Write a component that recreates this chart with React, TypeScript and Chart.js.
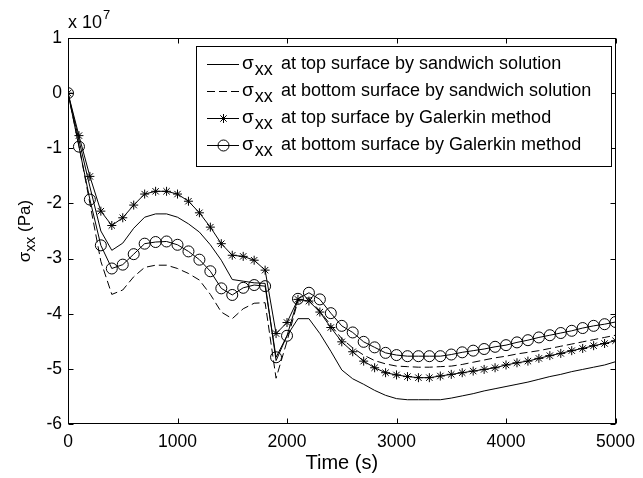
import React, { useEffect, useRef } from "react";
import { Chart, registerables } from "chart.js";
Chart.register(...registerables);

// Time (s)
const TIME = [
  0, 100, 200, 300, 400, 500, 600, 700, 800, 900,
  1000, 1100, 1200, 1300, 1400, 1500, 1600, 1700, 1800, 1900,
  2000, 2100, 2200, 2300, 2400, 2500, 2600, 2700, 2800, 2900,
  3000, 3100, 3200, 3300, 3400, 3500, 3600, 3700, 3800, 3900,
  4000, 4100, 4200, 4300, 4400, 4500, 4600, 4700, 4800, 4900, 5000,
];

// sigma_xx (x 1e7 Pa)
const TOP_SANDWICH = [
  0, -0.85, -1.7, -2.5, -2.85, -2.72, -2.45, -2.25, -2.19, -2.19,
  -2.25, -2.37, -2.52, -2.75, -3.03, -3.38, -3.41, -3.44, -3.45, -4.85,
  -4.4, -4.09, -4.09, -4.36, -4.68, -5.02, -5.18, -5.28, -5.39, -5.48,
  -5.54, -5.56, -5.56, -5.56, -5.56, -5.53, -5.49, -5.45, -5.4, -5.36,
  -5.32, -5.28, -5.24, -5.19, -5.14, -5.1, -5.05, -5.01, -4.97, -4.93, -4.87,
];
const BOTTOM_SANDWICH = [
  0, -0.95, -2.0, -3.05, -3.65, -3.57, -3.33, -3.16, -3.12, -3.12,
  -3.18, -3.27, -3.39, -3.65, -3.97, -4.09, -3.91, -3.81, -3.8, -5.17,
  -4.5, -3.76, -3.73, -3.95, -4.21, -4.45, -4.62, -4.75, -4.85, -4.91,
  -4.95, -4.96, -4.97, -4.97, -4.96, -4.95, -4.92, -4.88, -4.84, -4.8,
  -4.77, -4.73, -4.7, -4.67, -4.63, -4.59, -4.55, -4.51, -4.47, -4.43, -4.39,
];
const TOP_GALERKIN = [
  0, -0.77, -1.51, -2.14, -2.4, -2.26, -2.03, -1.83, -1.78, -1.78,
  -1.83, -1.96, -2.17, -2.43, -2.73, -2.94, -2.96, -3.03, -3.21, -4.36,
  -4.16, -3.74, -3.77, -3.97, -4.25, -4.51, -4.69, -4.86, -4.98, -5.07,
  -5.11, -5.14, -5.16, -5.16, -5.13, -5.1, -5.07, -5.04, -5.01, -4.98,
  -4.93, -4.89, -4.86, -4.81, -4.76, -4.72, -4.67, -4.63, -4.58, -4.54, -4.49,
];
const BOTTOM_GALERKIN = [
  0, -0.97, -1.93, -2.76, -3.18, -3.11, -2.92, -2.73, -2.7, -2.69,
  -2.75, -2.87, -3.02, -3.23, -3.54, -3.66, -3.53, -3.48, -3.5, -4.79,
  -4.4, -3.73, -3.62, -3.74, -3.99, -4.22, -4.34, -4.51, -4.61, -4.71,
  -4.75, -4.77, -4.77, -4.77, -4.77, -4.74, -4.7, -4.67, -4.64, -4.6,
  -4.57, -4.52, -4.48, -4.43, -4.39, -4.35, -4.31, -4.26, -4.22, -4.19, -4.15,
];

const X_TICKS = [0, 1000, 2000, 3000, 4000, 5000];
const Y_TICKS = [1, 0, -1, -2, -3, -4, -5, -6];
const LEGEND_LABELS = [
  "at top surface by sandwich solution",
  "at bottom surface by sandwich solution",
  "at top surface by Galerkin method",
  "at bottom surface by Galerkin method",
];
const X_TITLE = "Time (s)";
const SIGMA = "σ";
const SUB = "xx";
const Y_TITLE_UNIT = " (Pa)";
const EXPONENT_BASE = "x 10";
const EXPONENT_POWER = "7";

const FONT = '"Liberation Sans", Arial, Helvetica, sans-serif';

const toPoints = (ys: number[]) => TIME.map((t, i) => ({ x: t, y: ys[i] }));

function drawMarker(ctx: CanvasRenderingContext2D, style: string, r: number, x: number, y: number) {
  ctx.beginPath();
  if (style === "circle") {
    ctx.arc(x, y, r, 0, Math.PI * 2);
    ctx.stroke();
  } else {
    const d = r * Math.SQRT1_2;
    ctx.moveTo(x - r, y); ctx.lineTo(x + r, y);
    ctx.moveTo(x, y - r); ctx.lineTo(x, y + r);
    ctx.moveTo(x - d, y - d); ctx.lineTo(x + d, y + d);
    ctx.moveTo(x - d, y + d); ctx.lineTo(x + d, y - d);
    ctx.stroke();
  }
}

const decorPlugin = {
  id: "decor",
  afterDraw(chart: any) {
    const { ctx, chartArea: a, scales } = chart;
    const xs = scales.x;
    const ys = scales.y;
    ctx.save();
    ctx.strokeStyle = "#000";
    ctx.fillStyle = "#000";
    ctx.lineWidth = 1;
    const L = Math.round(a.left) + 0.5;
    const R = Math.round(a.right) - 0.5;
    const T = Math.round(a.top) + 0.5;
    const B = Math.round(a.bottom) - 0.5;
    ctx.strokeRect(L, T, R - L, B - T);
    const tl = 5;
    ctx.beginPath();
    X_TICKS.forEach((v) => {
      const px = Math.round(xs.getPixelForValue(v)) + 0.5;
      ctx.moveTo(px, B);
      ctx.lineTo(px, B - tl);
      ctx.moveTo(px, T);
      ctx.lineTo(px, T + tl);
    });
    Y_TICKS.forEach((v) => {
      const py = Math.round(ys.getPixelForValue(v)) + 0.5;
      ctx.moveTo(L, py);
      ctx.lineTo(L + tl, py);
      ctx.moveTo(R, py);
      ctx.lineTo(R - tl, py);
    });
    ctx.stroke();

    ctx.textAlign = "left";
    ctx.textBaseline = "alphabetic";

    // exponent label
    ctx.font = `18px ${FONT}`;
    ctx.fillText(EXPONENT_BASE, a.left, a.top - 10);
    const ew = ctx.measureText(EXPONENT_BASE).width;
    ctx.font = `13px ${FONT}`;
    ctx.fillText(EXPONENT_POWER, a.left + ew + 1, a.top - 19);

    // y title (rotated)
    ctx.save();
    ctx.translate(30, (a.top + a.bottom) / 2);
    ctx.rotate(-Math.PI / 2);
    ctx.font = `17px ${FONT}`;
    const w1 = ctx.measureText(SIGMA).width;
    ctx.font = `15px ${FONT}`;
    const w2 = ctx.measureText(SUB).width;
    ctx.font = `17px ${FONT}`;
    const w3 = ctx.measureText(Y_TITLE_UNIT).width;
    let cx = -(w1 + w2 + w3) / 2;
    ctx.fillText(SIGMA, cx, 0);
    cx += w1;
    ctx.font = `15px ${FONT}`;
    ctx.fillText(SUB, cx, 5);
    cx += w2;
    ctx.font = `17px ${FONT}`;
    ctx.fillText(Y_TITLE_UNIT, cx, 0);
    ctx.restore();

    // legend
    const bx = 196.5, by = 46.5, bw = 415, bh = 120;
    ctx.fillStyle = "#fff";
    ctx.fillRect(bx, by, bw, bh);
    ctx.strokeStyle = "#000";
    ctx.strokeRect(bx, by, bw, bh);
    const datasets = chart.data.datasets;
    LEGEND_LABELS.forEach((label, i) => {
      const ry = Math.round(by + 17 + i * 27.3) + 0.5;
      const ds = datasets[i];
      ctx.save();
      ctx.strokeStyle = "#000";
      ctx.lineWidth = 1;
      ctx.setLineDash(ds.borderDash || []);
      ctx.beginPath();
      ctx.moveTo(207, ry);
      ctx.lineTo(239, ry);
      ctx.stroke();
      ctx.setLineDash([]);
      if (ds.pointRadius > 0) {
        drawMarker(ctx, ds.pointStyle, ds.pointRadius, 223.5, ry);
      }
      ctx.restore();
      ctx.fillStyle = "#000";
      ctx.font = `19px ${FONT}`;
      ctx.fillText(SIGMA, 242, ry + 4);
      const sw = ctx.measureText(SIGMA).width;
      ctx.font = `18px ${FONT}`;
      ctx.fillText(SUB, 242 + sw + 1, ry + 10);
      ctx.font = `18px ${FONT}`;
      ctx.fillText(label, 281, ry + 4);
    });
    ctx.restore();
  },
};

export default function App() {
  const ref = useRef<HTMLCanvasElement>(null);
  useEffect(() => {
    document.body.style.margin = "0";
    const canvas = ref.current!;
    const common = {
      borderColor: "#000",
      borderWidth: 1,
      pointBorderColor: "#000",
      pointBorderWidth: 1,
      tension: 0,
      fill: false,
    };
    const chart = new Chart(canvas, {
      type: "line",
      data: {
        datasets: [
          { ...common, label: "top sandwich", data: toPoints(TOP_SANDWICH), pointRadius: 0, pointStyle: "circle", pointBackgroundColor: "transparent" },
          { ...common, label: "bottom sandwich", data: toPoints(BOTTOM_SANDWICH), pointRadius: 0, borderDash: [8, 4], pointStyle: "circle", pointBackgroundColor: "transparent" },
          { ...common, label: "top Galerkin", data: toPoints(TOP_GALERKIN), pointRadius: 4.5, pointStyle: "star", pointBackgroundColor: "transparent" },
          { ...common, label: "bottom Galerkin", data: toPoints(BOTTOM_GALERKIN), pointRadius: 5.5, pointStyle: "circle", pointBackgroundColor: "transparent" },
        ] as any,
      },
      options: {
        animation: false,
        responsive: false,
        maintainAspectRatio: false,
        layout: { padding: { top: 38, right: 24, left: 0, bottom: 0 } },
        plugins: { legend: { display: false }, tooltip: { enabled: false } },
        scales: {
          x: {
            type: "linear",
            min: 0,
            max: 5000,
            afterBuildTicks: (s: any) => { s.ticks = X_TICKS.map((v) => ({ value: v })); },
            afterFit: (s: any) => { s.height = 54; },
            grid: { display: false, drawTicks: false },
            border: { display: false },
            ticks: { color: "#000", font: { family: FONT, size: 17.5 }, padding: 8, maxRotation: 0, callback: (v: any) => String(v) },
            title: { display: true, text: X_TITLE, color: "#000", font: { family: FONT, size: 20 }, padding: { top: 0, bottom: 3 } },
          },
          y: {
            type: "linear",
            min: -6,
            max: 1,
            afterBuildTicks: (s: any) => { s.ticks = Y_TICKS.map((v) => ({ value: v })); },
            afterFit: (s: any) => { s.width = 68; },
            grid: { display: false, drawTicks: false },
            border: { display: false },
            ticks: { color: "#000", font: { family: FONT, size: 17.5 }, padding: 6, callback: (v: any) => String(v) },
          },
        },
      },
      plugins: [decorPlugin],
    } as any);
    return () => chart.destroy();
  }, []);
  return <canvas ref={ref} width={643} height={478} style={{ display: "block" }} />;
}
